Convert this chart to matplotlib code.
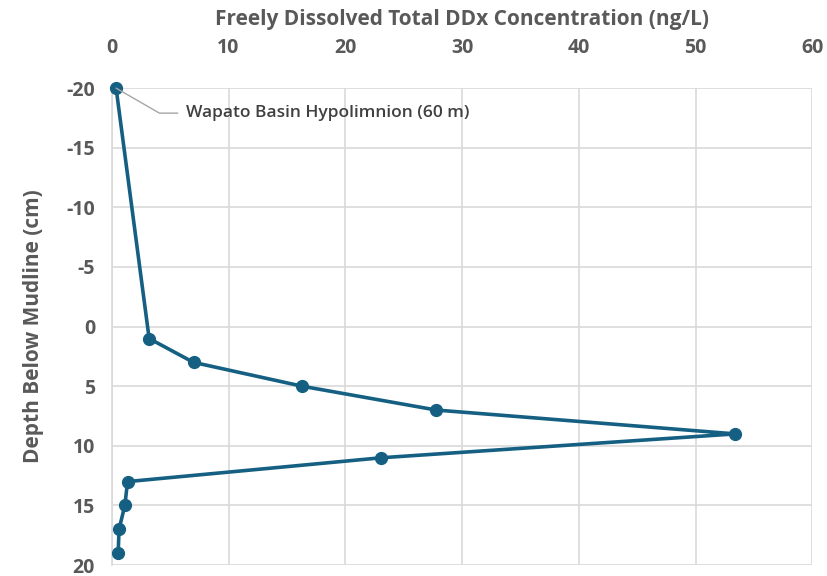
import matplotlib
matplotlib.use('Agg')
import matplotlib.pyplot as plt

# depth profile (cm below mudline) vs freely dissolved total DDx (ng/L)
depth = [-20, 1, 3, 5, 7, 9, 11, 13, 15, 17, 19]
conc = [0.37, 3.2, 7.0, 16.3, 27.8, 53.4, 23.1, 1.35, 1.12, 0.62, 0.55]

x_ticks = [0, 10, 20, 30, 40, 50, 60]
y_ticks = [-20, -15, -10, -5, 0, 5, 10, 15, 20]

LINE = '#156082'
TXT = '#595959'
GRID = '#d9d9d9'

plt.rcParams['font.family'] = ['Open Sans', 'DejaVu Sans']
plt.rcParams['axes.unicode_minus'] = False

fig = plt.figure(figsize=(8.28, 5.76), dpi=100)
ax = fig.add_axes([0.135, 0.019, 0.846, 0.828])

ax.plot(conc, depth, color=LINE, lw=2.6, marker='o', ms=8.5, zorder=3,
        clip_on=False)

ax.set_xlim(0, 60)
ax.set_ylim(20, -20)
ax.set_xticks(x_ticks)
ax.set_yticks(y_ticks)
ax.xaxis.tick_top()
ax.xaxis.set_label_position('top')
ax.grid(True, color=GRID, lw=1.2)
ax.set_axisbelow(True)
for s in ['top', 'right', 'bottom']:
    ax.spines[s].set_visible(False)
ax.spines['left'].set_color(GRID)
ax.spines['left'].set_linewidth(1.2)
ax.tick_params(length=0, labelsize=14, colors=TXT)
ax.tick_params(axis='x', pad=22)
ax.tick_params(axis='y', pad=12)
for lab in ax.get_xticklabels() + ax.get_yticklabels():
    lab.set_fontweight('bold')

ax.set_xlabel('Freely Dissolved Total DDx Concentration (ng/L)', fontsize=15,
              color=TXT, fontweight='bold', labelpad=9)
ax.set_ylabel('Depth Below Mudline (cm)', fontsize=15, color=TXT,
              fontweight='bold', labelpad=16)

ax.annotate('Wapato Basin Hypolimnion (60 m)', xy=(conc[0], depth[0]),
            xytext=(70, -25), textcoords='offset pixels',
            fontsize=12.5, color='#404040', fontweight='semibold',
            va='center', ha='left',
            arrowprops=dict(arrowstyle='-', color='#a6a6a6', lw=1,
                            relpos=(0, 0.5), shrinkA=4, shrinkB=0,
                            connectionstyle='angle,angleA=180,angleB=-30,rad=0'))

fig.savefig('out.png', dpi=100)
